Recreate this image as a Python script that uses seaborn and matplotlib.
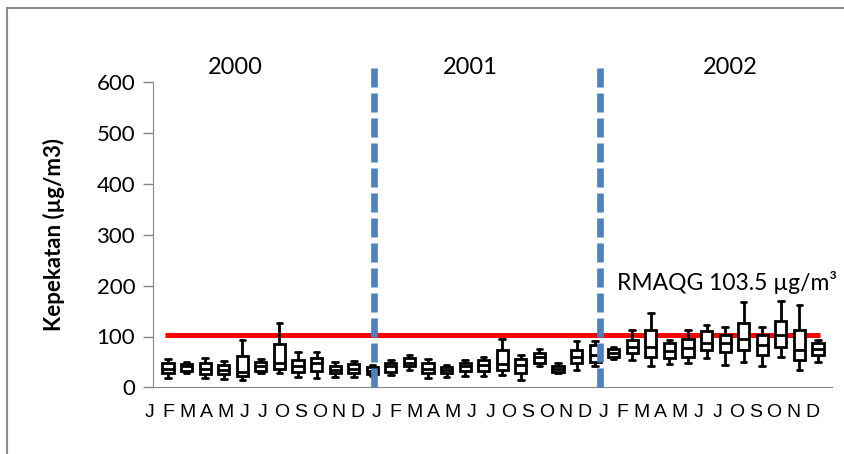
import numpy as np
import pandas as pd
import matplotlib
matplotlib.use('Agg')
import matplotlib.pyplot as plt
import matplotlib.patches as patches
import seaborn as sns

# five-number summaries, one entry per month (2000-2002)
whisker_low = [18, 28, 18, 16, 14, 29, 28, 21, 19, 20, 21, 22,
               24, 34, 18, 20, 22, 22, 24, 14, 41, 28, 34, 41,
               55, 54, 42, 46, 47, 57, 44, 50, 42, 60, 35, 50]
quart_low = [28, 33, 26, 26, 22, 33, 37, 31, 33, 28, 29, 27,
             31, 41, 29, 28, 33, 33, 35, 29, 48, 31, 47, 50,
             59, 67, 59, 57, 60, 73, 70, 73, 64, 80, 54, 64]
medians = [37, 41, 37, 34, 31, 42, 47, 42, 47, 35, 37, 33,
           41, 48, 37, 34, 42, 44, 46, 44, 59, 37, 60, 64,
           67, 80, 79, 72, 77, 87, 87, 96, 83, 103, 73, 75]
quart_high = [47, 46, 48, 43, 62, 50, 85, 54, 57, 42, 46, 40,
              48, 57, 47, 39, 48, 54, 73, 55, 67, 42, 73, 83,
              75, 94, 113, 87, 96, 110, 103, 126, 103, 131, 113, 87]
whisker_high = [55, 50, 57, 52, 93, 55, 126, 70, 70, 50, 52, 44,
                54, 64, 55, 44, 54, 60, 96, 64, 75, 47, 92, 92,
                80, 113, 147, 93, 113, 123, 119, 167, 118, 169, 162, 93]

month_labels = ["J", "F", "M", "A", "M", "J", "J", "O", "S", "O", "N", "D"] * 3
years = ["2000", "2001", "2002"]
rmaqg = 103.5

# long table: 5 values per box so that min/q1/median/q3/max match exactly
n = len(medians)
rows = []
for i in range(n):
    for v in (whisker_low[i], quart_low[i], medians[i], quart_high[i], whisker_high[i]):
        rows.append({'month': i, 'value': v})
df = pd.DataFrame(rows)

sns.set_style('white')
plt.rcParams['font.family'] = ['Lato', 'DejaVu Sans']
plt.rcParams['text.color'] = 'black'
plt.rcParams['axes.labelcolor'] = 'black'
plt.rcParams['xtick.color'] = 'black'
plt.rcParams['ytick.color'] = 'black'

fig = plt.figure(figsize=(8.45, 4.54), dpi=100)
ax = fig.add_axes([143.9 / 845, 1 - 387.3 / 454, 688.9 / 845, (387.3 - 82.5) / 454])

sns.boxplot(data=df, x='month', y='value', order=list(range(n)), whis=(0, 100),
            color='white', linecolor='black', linewidth=2.0, width=0.6,
            showfliers=False, ax=ax)

# standard line and year dividers
ax.hlines(rmaqg, -0.15, 35.1, color='#ff0000', lw=3.6, zorder=1)
for xd in (11.1, 23.25):
    ax.vlines(xd, 0, 638, color='#4f81bd', lw=4.8, linestyles=(0, (2.85, 0.9)),
              capstyle='butt', clip_on=False, zorder=4)

for xt, yr in zip((3.6, 16.3, 30.3), years):
    ax.text(xt, 629, yr, ha='center', va='center', fontsize=17, clip_on=False)
ax.text(24.2, 207, "RMAQG %.1f µg/m³" % rmaqg, ha='left', va='center',
        fontsize=16.5, clip_on=False)

ax.set_xlim(-1.3, 35.8)
ax.set_ylim(0, 600)
ax.set_yticks(range(0, 601, 100))
ax.set_xticks(np.linspace(-1.0, 34.68, n))
ax.set_xticklabels(month_labels, family=['Liberation Sans', 'DejaVu Sans'], fontsize=14)
ax.tick_params(axis='x', length=0, pad=12)
ax.tick_params(axis='y', length=7, width=1, color='#868686', labelcolor='black',
               labelsize=16, pad=6, direction='out', left=True)

for s in ('top', 'right'):
    ax.spines[s].set_visible(False)
ax.spines['left'].set_position(('data', -0.8))
ax.spines['left'].set_color('#868686')
ax.spines['bottom'].set_color('#868686')
ax.spines['bottom'].set_bounds(-0.8, 35.75)

ax.set_xlabel('')
ax.set_ylabel('Kepekatan (µg/m3)', fontsize=16, fontweight='bold')
ax.yaxis.set_label_coords(-0.115, 0.5)

# outer chart frame, cut off at right and bottom
fig.patches.append(patches.Rectangle((7 / 845, -0.2), 1.2, 1.2 - 7.5 / 454,
                                     transform=fig.transFigure, fill=False,
                                     ec='#8c8c8c', lw=1.5))

fig.savefig('out.png', dpi=100)
